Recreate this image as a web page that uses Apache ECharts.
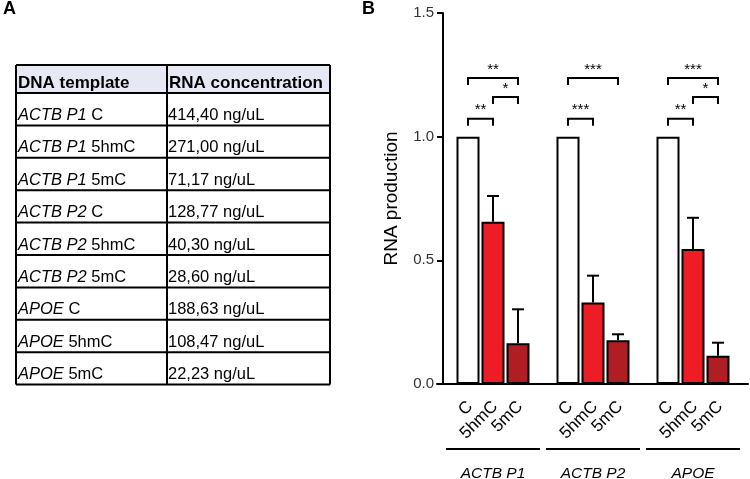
<!DOCTYPE html>
<html>
<head>
<meta charset="utf-8">
<script src="https://cdn.jsdelivr.net/npm/echarts@6/dist/echarts.min.js"></script>
<style>
html,body{margin:0;padding:0;background:#fff;}
#chart{width:750px;height:479px;}
</style>
</head>
<body>
<div id="chart"></div>
<script>
// ---------- Data ----------
const groups = ['ACTB P1', 'ACTB P2', 'APOE'];
const conditions = ['C', '5hmC', '5mC'];
const meanC = [1.0, 1.0, 1.0];
const mean5hmC = [0.656, 0.330, 0.546];
const mean5mC = [0.165, 0.177, 0.114];
const sd5hmC = [0.104, 0.108, 0.126];
const sd5mC = [0.137, 0.024, 0.053];
const yTicks = ['0.0', '0.5', '1.0', '1.5'];

// significance brackets
const sigGroup = [0, 0, 0, 1, 1, 2, 2, 2];
const sigFrom  = [0, 1, 0, 0, 0, 0, 1, 0];
const sigTo    = [1, 2, 2, 1, 2, 1, 2, 2];
const sigY     = [1.072, 1.16, 1.237, 1.072, 1.237, 1.072, 1.16, 1.237];
const sigLabel = ['**', '*', '**', '***', '***', '**', '*', '***'];

// table (panel A)
const tableHeader = ['DNA template', 'RNA concentration'];
const tableGene = ['ACTB P1', 'ACTB P1', 'ACTB P1', 'ACTB P2', 'ACTB P2', 'ACTB P2', 'APOE', 'APOE', 'APOE'];
const tableMod = ['C', '5hmC', '5mC', 'C', '5hmC', '5mC', 'C', '5hmC', '5mC'];
const tableConc = ['414,40 ng/uL', '271,00 ng/uL', '71,17 ng/uL', '128,77 ng/uL', '40,30 ng/uL', '28,60 ng/uL', '188,63 ng/uL', '108,47 ng/uL', '22,23 ng/uL'];

// ---------- helpers ----------
const FONT = 'Liberation Sans, Arial, sans-serif';
const slot = (g, c) => g * 4 + c + 1; // bar position on the value x axis
const colors = ['#ffffff', '#ee1c25', '#b01e23'];
const means = [meanC, mean5hmC, mean5mC];

const barSeries = conditions.map((cond, c) => ({
  type: 'bar',
  name: cond,
  barWidth: 23,
  barGap: '-100%',
  itemStyle: { color: colors[c], borderColor: '#000', borderWidth: 2 },
  data: groups.map((g, gi) => [slot(gi, c), means[c][gi]]),
  z: 2
}));

const errData = [];
groups.forEach((g, gi) => {
  errData.push([slot(gi, 1), mean5hmC[gi], sd5hmC[gi]]);
  errData.push([slot(gi, 2), mean5mC[gi], sd5mC[gi]]);
});

const labelData = [];
groups.forEach((g, gi) => conditions.forEach((c, ci) => labelData.push([slot(gi, ci), ci])));

const sigData = sigGroup.map((g, i) => [slot(g, sigFrom[i]), slot(g, sigTo[i]), sigY[i], i]);
const groupData = groups.map((g, gi) => [slot(gi, 1), gi]);

// ---------- table graphic ----------
const tL = 16, tM = 167, tR = 330, tTop = 65, hH = 28, rH = 32.4;
const graphics = [];
graphics.push({ type: 'text', left: 3, top: 0, style: { text: 'A', font: 'bold 18px ' + FONT, fill: '#000' } });
graphics.push({ type: 'text', left: 362, top: 0, style: { text: 'B', font: 'bold 18px ' + FONT, fill: '#000' } });
graphics.push({ type: 'rect', shape: { x: tL, y: tTop, width: tR - tL, height: hH }, style: { fill: '#e6e9f4', stroke: null } });
for (let r = 0; r <= tableGene.length + 1; r++) {
  const y = r === 0 ? tTop : tTop + hH + (r - 1) * rH;
  graphics.push({ type: 'line', shape: { x1: tL, y1: y, x2: tR, y2: y }, style: { stroke: '#000', lineWidth: 2 } });
}
const tBottom = tTop + hH + tableGene.length * rH;
[tL, tM, tR].forEach(x => graphics.push({ type: 'line', shape: { x1: x, y1: tTop, x2: x, y2: tBottom }, style: { stroke: '#000', lineWidth: 2 } }));
graphics.push({ type: 'text', x: tL + 2, y: tTop + hH - 10, style: { text: tableHeader[0], font: 'bold 17px ' + FONT, fill: '#000', verticalAlign: 'middle', textVerticalAlign: 'middle' } });
graphics.push({ type: 'text', x: tM + 2, y: tTop + hH - 10, style: { text: tableHeader[1], font: 'bold 17px ' + FONT, fill: '#000', verticalAlign: 'middle', textVerticalAlign: 'middle' } });
const richBase = { fontSize: 16.5, fontFamily: FONT, fill: '#000' };
tableGene.forEach((gene, i) => {
  const yb = tTop + hH + (i + 1) * rH;
  graphics.push({
    type: 'text', x: tL + 2, y: yb - 10,
    style: {
      text: '{i|' + gene + '}{n| ' + tableMod[i] + '}',
      rich: { i: Object.assign({ fontStyle: 'italic' }, richBase), n: Object.assign({}, richBase) },
      verticalAlign: 'middle', textVerticalAlign: 'middle'
    }
  });
  graphics.push({
    type: 'text', x: tM + 1, y: yb - 10,
    style: { text: tableConc[i], font: '16.5px ' + FONT, fill: '#000', verticalAlign: 'middle', textVerticalAlign: 'middle' }
  });
});

// ---------- chart ----------
const chart = echarts.init(document.getElementById('chart'), null, { renderer: 'canvas' });
chart.setOption({
  backgroundColor: '#fff',
  animation: false,
  grid: { left: 437, top: 13, width: 311, height: 371, containLabel: false },
  xAxis: {
    type: 'value', min: -0.24, max: 12.2,
    axisLine: { show: true, onZero: true, lineStyle: { color: '#000', width: 2 } },
    axisTick: { show: false }, axisLabel: { show: false }, splitLine: { show: false }
  },
  yAxis: {
    type: 'value', min: 0, max: 1.5, interval: 0.5,
    name: 'RNA production', nameLocation: 'middle', nameGap: 36,
    nameTextStyle: { fontSize: 19, fontFamily: FONT, color: '#000' },
    axisLine: { show: true, lineStyle: { color: '#000', width: 2 } },
    axisTick: { show: true, length: 6, lineStyle: { color: '#000', width: 2 } },
    axisLabel: { fontSize: 15, fontFamily: FONT, color: '#333', margin: 3,
      formatter: (v) => yTicks[Math.round(v / 0.5)] },
    splitLine: { show: false }
  },
  graphic: graphics,
  series: barSeries.concat([
    {
      type: 'custom', name: 'err', z: 3, clip: false,
      data: errData,
      renderItem: (params, api) => {
        const x = api.value(0), m = api.value(1), s = api.value(2);
        const b = api.coord([x, m]), t = api.coord([x, m + s]);
        return { type: 'group', children: [
          { type: 'line', shape: { x1: b[0], y1: b[1], x2: t[0], y2: t[1] }, style: { stroke: '#000', lineWidth: 2 } },
          { type: 'line', shape: { x1: t[0] - 6, y1: t[1], x2: t[0] + 6, y2: t[1] }, style: { stroke: '#000', lineWidth: 2 } }
        ]};
      }
    },
    {
      type: 'custom', name: 'sig', z: 3, clip: false,
      data: sigData,
      renderItem: (params, api) => {
        const p1 = api.coord([api.value(0), api.value(2)]);
        const p2 = api.coord([api.value(1), api.value(2)]);
        const lab = sigLabel[api.value(3)];
        return { type: 'group', children: [
          { type: 'polyline', shape: { points: [[p1[0], p1[1] + 7], [p1[0], p1[1]], [p2[0], p2[1]], [p2[0], p2[1] + 7]] },
            style: { stroke: '#000', lineWidth: 2, fill: null } },
          { type: 'text', x: (p1[0] + p2[0]) / 2, y: p1[1] - 1,
            style: { text: lab, font: '15px ' + FONT, fill: '#000', align: 'center', verticalAlign: 'bottom', textAlign: 'center', textVerticalAlign: 'bottom' } }
        ]};
      }
    },
    {
      type: 'custom', name: 'xlabels', z: 3, clip: false,
      data: labelData,
      renderItem: (params, api) => {
        const p = api.coord([api.value(0), 0]);
        return { type: 'text', x: p[0] + 2, y: p[1] + 20, rotation: Math.PI / 4,
          style: { text: conditions[api.value(1)], font: '17px ' + FONT, fill: '#000',
            align: 'right', verticalAlign: 'middle', textAlign: 'right', textVerticalAlign: 'middle' } };
      }
    },
    {
      type: 'custom', name: 'groups', z: 3, clip: false,
      data: groupData,
      renderItem: (params, api) => {
        const p = api.coord([api.value(0), 0]);
        return { type: 'group', children: [
          { type: 'line', shape: { x1: p[0] - 47, y1: p[1] + 65, x2: p[0] + 47, y2: p[1] + 65 }, style: { stroke: '#000', lineWidth: 2 } },
          { type: 'text', x: p[0], y: p[1] + 90,
            style: { text: groups[api.value(1)], font: 'italic 15.5px ' + FONT, fill: '#000',
              align: 'center', verticalAlign: 'middle', textAlign: 'center', textVerticalAlign: 'middle' } }
        ]};
      }
    }
  ])
});
</script>
</body>
</html>
